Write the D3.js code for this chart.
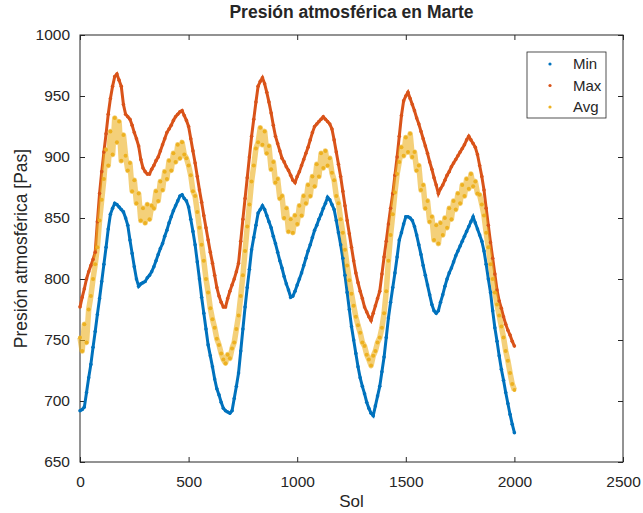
<!DOCTYPE html>
<html>
<head>
<meta charset="utf-8">
<script src="https://cdn.jsdelivr.net/npm/d3@7"></script>
<style>
  body { margin: 0; background: #fff; }
  text { font-family: "Liberation Sans", Arial, sans-serif; fill: #262626; }
</style>
</head>
<body>
<script>
// presion diaria (Pa) leida cada 10 soles, sol 0 .. 2000
var solStep = 10;

var minValues = [
  692,693,695,707,719,730,744,757,771,784, 798,812,826,841,853,858,862,861,859,857,
  855,850,844,832,821,810,800,794,796,797, 798,801,803,806,810,815,820,825,829,835,
  840,846,851,856,860,864,868,869,866,864, 859,849,839,828,814,800,785,772,759,746,
  737,728,718,710,705,699,694,692,691,690, 692,702,712,723,741,759,777,793,808,824,
  834,844,854,857,860,857,852,847,842,835, 829,822,815,809,802,796,791,785,786,790,
  795,800,805,811,817,823,828,834,840,844, 849,853,858,862,867,865,861,857,848,838,
  828,817,803,789,775,761,750,739,728,719, 712,706,699,694,690,688,696,704,712,724,
  736,752,768,781,793,805,818,832,838,845, 851,851,850,848,843,836,828,820,811,803,
  795,787,779,774,772,774,781,787,794,800, 805,809,814,819,823,827,831,835,839,843,
  847,851,846,841,836,831,823,812,800,789, 774,760,749,737,726,717,707,698,689,681,
  674
];

var maxValues = [
  777,785,792,800,806,811,816,822,847,870, 888,904,919,935,948,958,966,968,963,958,
  943,935,933,931,926,920,915,909,898,891, 888,886,886,890,893,897,900,905,910,915,
  920,923,926,930,933,935,937,938,934,930, 925,915,905,895,884,873,863,852,842,832,
  822,813,803,793,786,781,777,777,784,790, 795,800,806,813,831,849,866,883,900,917,
  931,945,958,962,965,960,953,945,936,926, 917,911,905,899,896,892,889,885,881,879,
  884,888,893,898,903,908,914,920,925,927, 929,931,933,931,929,927,923,914,904,894,
  884,872,860,848,837,826,815,805,797,790, 784,777,773,769,766,772,778,784,790,804,
  818,831,845,858,870,885,900,917,934,946, 950,953,948,943,938,932,927,921,915,909,
  903,896,890,883,877,870,874,877,881,885, 888,892,895,898,901,904,907,910,914,917,
  914,911,908,902,893,884,873,858,844,830, 817,804,791,782,776,769,763,758,754,749,
  745
];

var avgValues = [
  752,741,763,748,775,786,800,812,826,848, 865,882,906,893,921,902,932,912,929,897,
  918,901,889,895,872,881,862,870,848,858, 846,861,849,860,858,872,864,880,873,888,
  882,897,889,903,896,910,899,912,902,899, 893,885,872,868,855,842,828,815,800,789,
  776,767,760,751,746,739,734,731,738,735, 743,748,759,770,786,803,823,843,861,880,
  893,907,912,924,910,921,903,909,890,896, 879,882,866,868,850,858,839,849,838,852,
  845,860,852,868,862,877,868,884,876,894, 884,903,891,905,893,899,887,881,868,862,
  849,838,824,811,799,788,778,769,762,756, 748,745,738,734,729,737,741,748,752,760,
  772,790,815,836,853,871,886,896,908,901, 916,904,919,900,904,889,893,873,877,858,
  864,847,851,832,844,829,846,836,850,842, 858,849,864,857,870,862,877,868,882,874,
  886,876,880,870,869,861,852,838,826,812, 800,789,779,770,761,752,741,733,723,714,
  709
];

var seriesNames = ['Min', 'Max', 'Avg'];
var seriesColors = ['#0072BD', '#D95319', '#EDB120'];

var xTicks = [0, 500, 1000, 1500, 2000, 2500];
var yTicks = [650, 700, 750, 800, 850, 900, 950, 1000];

var svg = d3.select('body')
    .append('svg')
    .attr('width', 643)
    .attr('height', 513)
    .style('display', 'block');

var margin = {top: 35, right: 20, bottom: 51, left: 80};
var width = 643 - margin.left - margin.right;
var height = 513 - margin.top - margin.bottom;

var x = d3.scaleLinear().domain([0, 2500]).range([0, width]);
var y = d3.scaleLinear().domain([650, 1000]).range([height, 0]);

var g = svg.append('g').attr('transform', 'translate(' + margin.left + ',' + margin.top + ')');

// ticks pointing inwards, like matlab
g.append('g')
    .attr('transform', 'translate(0,' + height + ')')
    .call(d3.axisBottom(x).tickValues(xTicks).tickFormat(d3.format('d')).tickSize(-5).tickPadding(14).tickSizeOuter(0))
    .call(function (a) { a.select('.domain').remove(); })
    .selectAll('text').style('font-size', '15.5px');

g.append('g')
    .call(d3.axisLeft(y).tickValues(yTicks).tickFormat(d3.format('d')).tickSize(-5).tickPadding(10).tickSizeOuter(0))
    .call(function (a) { a.select('.domain').remove(); })
    .selectAll('text').style('font-size', '15.5px');

g.append('g')
    .call(d3.axisTop(x).tickValues(xTicks).tickSize(-5).tickFormat('').tickSizeOuter(0))
    .call(function (a) { a.select('.domain').remove(); });

g.append('g')
    .attr('transform', 'translate(' + width + ',0)')
    .call(d3.axisRight(y).tickValues(yTicks).tickSize(-5).tickFormat('').tickSizeOuter(0))
    .call(function (a) { a.select('.domain').remove(); });

g.selectAll('.tick line').attr('stroke', '#262626');

g.append('rect')
    .attr('width', width)
    .attr('height', height)
    .attr('fill', 'none')
    .attr('stroke', '#262626')
    .attr('stroke-width', 1);

var allSeries = [minValues, maxValues, avgValues];

var line = d3.line()
    .x(function (d, i) { return x(i * solStep); })
    .y(function (d) { return y(d); });

// min and max are so dense they read as thick lines
for (var j = 0; j < 2; j++) {
    g.append('path')
        .datum(allSeries[j])
        .attr('d', line)
        .attr('fill', 'none')
        .attr('stroke', seriesColors[j])
        .attr('stroke-width', 3);
}

// avg is a noisy cloud: soft band under the dots
g.append('path')
    .datum(avgValues)
    .attr('d', line)
    .attr('fill', 'none')
    .attr('stroke', seriesColors[2])
    .attr('stroke-width', 5.5)
    .attr('stroke-linejoin', 'round')
    .attr('stroke-opacity', 0.6);

for (j = 0; j < allSeries.length; j++) {
    g.append('g')
        .selectAll('circle')
        .data(allSeries[j])
        .enter()
        .append('circle')
        .attr('cx', function (d, i) { return x(i * solStep); })
        .attr('cy', function (d) { return y(d); })
        .attr('r', j == 2 ? 2 : 1.8)
        .attr('fill', seriesColors[j]);
}

// legend
var legend = g.append('g').attr('transform', 'translate(' + (width - 96) + ',17)');
legend.append('rect')
    .attr('width', 79)
    .attr('height', 66)
    .attr('fill', 'white')
    .attr('stroke', '#262626')
    .attr('stroke-width', 0.8);
legend.selectAll('circle')
    .data(seriesNames)
    .enter()
    .append('circle')
    .attr('cx', 23)
    .attr('cy', function (d, i) { return 12 + i * 21.5; })
    .attr('r', 1.6)
    .attr('fill', function (d, i) { return seriesColors[i]; });
legend.selectAll('text')
    .data(seriesNames)
    .enter()
    .append('text')
    .attr('x', 46)
    .attr('y', function (d, i) { return 12 + i * 21.5; })
    .attr('dy', '0.35em')
    .style('font-size', '15px')
    .text(function (d) { return d; });

svg.append('text')
    .attr('x', margin.left + width / 2)
    .attr('y', 18)
    .attr('text-anchor', 'middle')
    .style('font-size', '17.5px')
    .style('font-weight', 'bold')
    .text('Presión atmosférica en Marte');

svg.append('text')
    .attr('x', margin.left + width / 2)
    .attr('y', 507)
    .attr('text-anchor', 'middle')
    .style('font-size', '17px')
    .text('Sol');

svg.append('text')
    .attr('transform', 'translate(27,' + (margin.top + height / 2) + ') rotate(-90)')
    .attr('text-anchor', 'middle')
    .style('font-size', '17.5px')
    .text('Presión atmosférica [Pas]');
</script>
</body>
</html>
